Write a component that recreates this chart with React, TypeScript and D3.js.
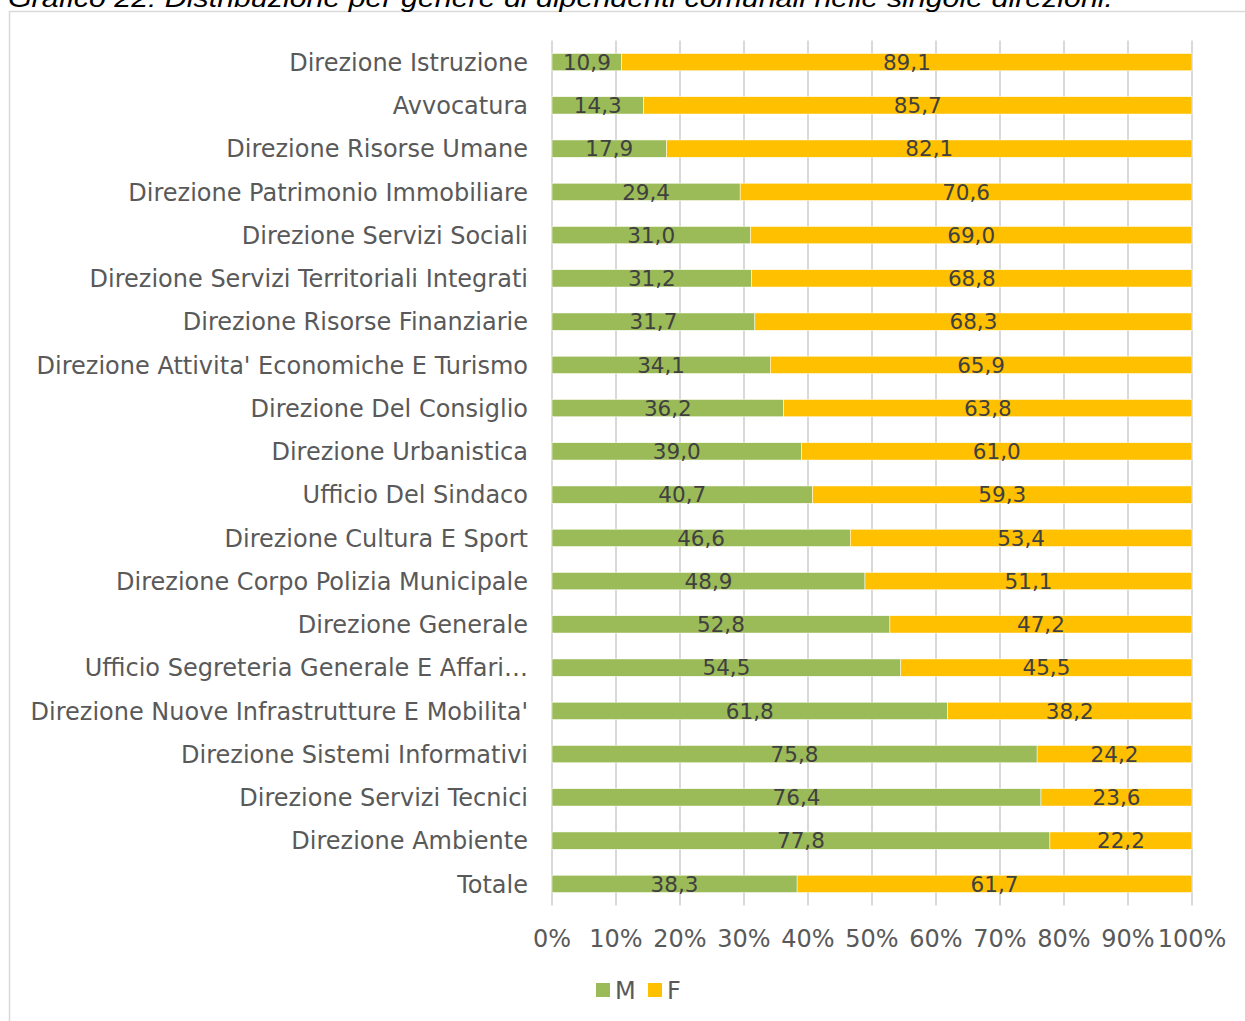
import React from 'react';
import * as d3 from 'd3';

// categories top to bottom
const directions = [
  "Direzione Istruzione",
  "Avvocatura",
  "Direzione Risorse Umane",
  "Direzione Patrimonio Immobiliare",
  "Direzione Servizi Sociali",
  "Direzione Servizi Territoriali Integrati",
  "Direzione Risorse Finanziarie",
  "Direzione Attivita' Economiche E Turismo",
  "Direzione Del Consiglio",
  "Direzione Urbanistica",
  "Ufficio Del Sindaco",
  "Direzione Cultura E Sport",
  "Direzione Corpo Polizia Municipale",
  "Direzione Generale",
  "Ufficio Segreteria Generale E Affari…",
  "Direzione Nuove Infrastrutture E Mobilita'",
  "Direzione Sistemi Informativi",
  "Direzione Servizi Tecnici",
  "Direzione Ambiente",
  "Totale",
];

const maleValues = [10.9, 14.3, 17.9, 29.4, 31.0, 31.2, 31.7, 34.1, 36.2, 39.0, 40.7, 46.6, 48.9, 52.8, 54.5, 61.8, 75.8, 76.4, 77.8, 38.3];
const femaleValues = [89.1, 85.7, 82.1, 70.6, 69.0, 68.8, 68.3, 65.9, 63.8, 61.0, 59.3, 53.4, 51.1, 47.2, 45.5, 38.2, 24.2, 23.6, 22.2, 61.7];

const xTicks = [0, 10, 20, 30, 40, 50, 60, 70, 80, 90, 100];
const seriesNames = ["M", "F"];
const seriesColors = ["#9BBB59", "#FFC000"];

const caption = "Grafico 22: Distribuzione per genere di dipendenti comunali nelle singole direzioni.";

const W = 1245;
const H = 1021;
const FONT = "'DejaVu Sans', Verdana, sans-serif";

export default function App() {
  const x = d3.scaleLinear().domain([0, 100]).range([552, 1192]);
  const y = d3.scaleBand().domain(directions).range([40.5, 905.5]).paddingInner(0.6).paddingOuter(0.3);
  const fmt = (v: number) => v.toFixed(1).replace('.', ',');

  const rows = directions.map((d, i) => ({ name: d, m: maleValues[i], f: femaleValues[i] }));
  const gridTop = 40.5;
  const gridBottom = 905.5;

  return (
    <svg width={W} height={H} style={{ position: 'absolute', left: 0, top: 0, background: '#fff' }} fontFamily={FONT}>
      <rect x={0} y={0} width={W} height={H} fill="#fff" />
      {/* frame */}
      <rect x={9.5} y={11.5} width={W + 20} height={H + 20} fill="none" stroke="#d9d9d9" strokeWidth={1.5} />
      {/* caption (partly cut at top) */}
      <text x={8} y={6.5} fontSize={26} fontStyle="italic" fill="#000"
        fontFamily="'Liberation Sans', Arial, sans-serif" textLength={1105} lengthAdjust="spacingAndGlyphs">{caption}</text>

      {/* gridlines */}
      {xTicks.map(t => (
        <line key={t} x1={x(t)} x2={x(t)} y1={gridTop} y2={gridBottom} stroke="#d9d9d9" strokeWidth={2} />
      ))}

      {/* bars */}
      {rows.map(r => {
        const by = y(r.name)!;
        const bh = y.bandwidth();
        const cy = by + bh / 2;
        return (
          <g key={r.name}>
            <rect x={x(0)} y={by} width={x(r.m) - x(0)} height={bh} fill={seriesColors[0]} stroke="#fff" strokeWidth={0.5} />
            <rect x={x(r.m)} y={by} width={x(r.m + r.f) - x(r.m)} height={bh} fill={seriesColors[1]} stroke="#fff" strokeWidth={0.5} />
            <text x={(x(0) + x(r.m)) / 2} y={cy} dy="0.36em" textAnchor="middle" fontSize={21.5} fill="#404040">{fmt(r.m)}</text>
            <text x={(x(r.m) + x(r.m + r.f)) / 2} y={cy} dy="0.36em" textAnchor="middle" fontSize={21.5} fill="#404040">{fmt(r.f)}</text>
            <text x={528} y={cy} dy="0.36em" textAnchor="end" fontSize={24} fill="#595959">{r.name}</text>
          </g>
        );
      })}

      {/* x axis labels */}
      {xTicks.map(t => (
        <text key={t} x={x(t)} y={938} dy="0.36em" textAnchor="middle" fontSize={24} fill="#595959">{t}%</text>
      ))}

      {/* legend */}
      {seriesNames.map((s, i) => (
        <g key={s} transform={`translate(${596 + i * 52},983)`}>
          <rect x={0} y={0} width={14} height={14} fill={seriesColors[i]} />
          <text x={19} y={7} dy="0.36em" fontSize={24} fill="#595959">{s}</text>
        </g>
      ))}
    </svg>
  );
}
